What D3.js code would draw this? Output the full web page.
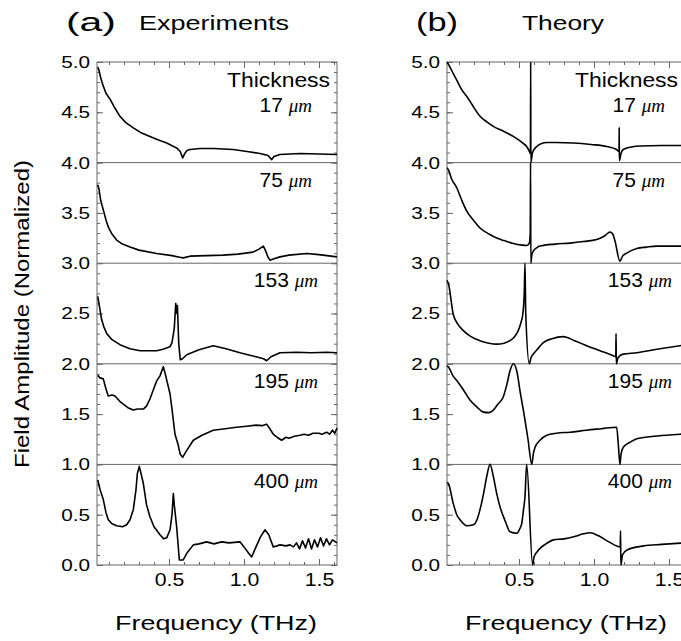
<!DOCTYPE html>
<html>
<head>
<meta charset="utf-8">
<script src="https://d3js.org/d3.v7.min.js"></script>
<style>
  body { margin: 0; background: #fff; }
  text { font-family: "Liberation Sans", Arial, sans-serif; fill: #000; }
</style>
</head>
<body>
<svg id="chart" width="681" height="641"></svg>
<script>
// thickness of each sample, top band to bottom band
const thickness = ["17", "75", "153", "195", "400"];
const offsets = [4, 3, 2, 1, 0];

const yTicks = [0, 0.5, 1, 1.5, 2, 2.5, 3, 3.5, 4, 4.5, 5];
const xTicks = [0.5, 1.0, 1.5];

// experiments: [frequency THz, amplitude within band]
const exp17 = [[0.025,0.95],[0.033,0.92],[0.045,0.84],[0.062,0.76],[0.08,0.69],[0.107,0.63],[0.14,0.54],[0.173,0.46],[0.21,0.4],[0.262,0.345],[0.31,0.3],[0.373,0.26],[0.43,0.225],[0.485,0.195],[0.53,0.16],[0.551,0.146],[0.575,0.11],[0.591,0.047],[0.605,0.09],[0.62,0.12],[0.64,0.13],[0.707,0.14],[0.8,0.14],[0.927,0.13],[1.02,0.11],[1.107,0.09],[1.16,0.07],[1.185,0.03],[1.2,0.06],[1.24,0.08],[1.373,0.09],[1.5,0.085],[1.62,0.08]];
const exp75 = [[0.025,0.78],[0.033,0.74],[0.045,0.62],[0.062,0.53],[0.08,0.43],[0.095,0.36],[0.12,0.29],[0.151,0.23],[0.19,0.19],[0.24,0.16],[0.3,0.13],[0.418,0.096],[0.52,0.075],[0.57,0.06],[0.595,0.053],[0.64,0.07],[0.75,0.075],[0.86,0.08],[0.96,0.09],[1.06,0.11],[1.1,0.14],[1.129,0.17],[1.145,0.12],[1.16,0.06],[1.173,0.03],[1.2,0.045],[1.24,0.063],[1.3,0.08],[1.418,0.096],[1.5,0.085],[1.58,0.07],[1.62,0.063]];
const exp153 = [[0.025,0.67],[0.035,0.58],[0.051,0.44],[0.065,0.37],[0.085,0.3],[0.12,0.24],[0.173,0.19],[0.24,0.15],[0.307,0.13],[0.418,0.13],[0.46,0.145],[0.507,0.17],[0.52,0.21],[0.535,0.35],[0.545,0.6],[0.552,0.5],[0.556,0.58],[0.565,0.2],[0.575,0.04],[0.59,0.05],[0.618,0.09],[0.7,0.14],[0.795,0.18],[0.88,0.15],[0.973,0.11],[1.08,0.07],[1.13,0.05],[1.151,0.03],[1.18,0.07],[1.24,0.11],[1.35,0.115],[1.45,0.11],[1.55,0.115],[1.62,0.11]];
const exp195 = [[0.025,0.885],[0.04,0.86],[0.062,0.85],[0.08,0.75],[0.095,0.68],[0.12,0.69],[0.14,0.68],[0.17,0.63],[0.195,0.6],[0.23,0.56],[0.262,0.54],[0.29,0.55],[0.329,0.55],[0.35,0.58],[0.373,0.65],[0.4,0.76],[0.418,0.83],[0.44,0.88],[0.462,0.97],[0.475,0.9],[0.507,0.7],[0.52,0.55],[0.54,0.3],[0.56,0.2],[0.575,0.1],[0.591,0.07],[0.61,0.12],[0.662,0.24],[0.72,0.29],[0.795,0.34],[0.9,0.36],[0.95,0.37],[1.018,0.38],[1.08,0.39],[1.12,0.385],[1.151,0.4],[1.17,0.36],[1.195,0.3],[1.22,0.27],[1.251,0.24],[1.28,0.27],[1.3,0.26],[1.335,0.28],[1.373,0.29],[1.4,0.3],[1.43,0.29],[1.46,0.31],[1.5,0.31],[1.52,0.3],[1.551,0.32],[1.57,0.3],[1.59,0.34],[1.605,0.31],[1.62,0.36]];
const exp400 = [[0.025,0.845],[0.04,0.75],[0.062,0.65],[0.08,0.52],[0.095,0.45],[0.12,0.41],[0.151,0.39],[0.19,0.38],[0.218,0.4],[0.24,0.45],[0.262,0.55],[0.28,0.75],[0.289,0.91],[0.302,0.98],[0.315,0.9],[0.329,0.81],[0.35,0.6],[0.373,0.48],[0.4,0.38],[0.44,0.3],[0.465,0.26],[0.485,0.27],[0.507,0.35],[0.52,0.5],[0.529,0.71],[0.535,0.6],[0.551,0.38],[0.569,0.05],[0.595,0.05],[0.62,0.12],[0.662,0.2],[0.7,0.21],[0.751,0.23],[0.8,0.21],[0.85,0.23],[0.9,0.22],[0.973,0.23],[1.0,0.18],[1.03,0.12],[1.051,0.08],[1.08,0.18],[1.11,0.28],[1.14,0.35],[1.165,0.3],[1.195,0.18],[1.24,0.2],[1.28,0.19],[1.307,0.2],[1.33,0.18],[1.35,0.22],[1.37,0.16],[1.39,0.24],[1.41,0.17],[1.43,0.26],[1.45,0.16],[1.47,0.25],[1.49,0.18],[1.51,0.27],[1.53,0.19],[1.55,0.26],[1.57,0.2],[1.59,0.25],[1.62,0.22]];

// theory
const theo17 = [[0.02,1.0],[0.04,0.95],[0.06,0.89],[0.085,0.82],[0.12,0.72],[0.151,0.66],[0.19,0.57],[0.24,0.46],[0.29,0.4],[0.329,0.36],[0.4,0.31],[0.462,0.26],[0.52,0.2],[0.551,0.16],[0.57,0.11],[0.576,0.09],[0.578,1.0],[0.579,0.0],[0.59,0.1],[0.618,0.16],[0.65,0.19],[0.685,0.2],[0.75,0.2],[0.862,0.195],[0.98,0.18],[1.085,0.16],[1.15,0.13],[1.167,0.11],[1.168,0.35],[1.169,0.02],[1.18,0.09],[1.195,0.13],[1.25,0.155],[1.307,0.165],[1.45,0.17],[1.62,0.17]];
const theo75 = [[0.02,0.95],[0.029,0.93],[0.05,0.84],[0.085,0.75],[0.12,0.62],[0.151,0.52],[0.2,0.42],[0.24,0.35],[0.3,0.29],[0.351,0.25],[0.4,0.225],[0.462,0.196],[0.52,0.18],[0.551,0.176],[0.569,0.2],[0.575,0.3],[0.577,1.0],[0.579,0.0],[0.585,0.08],[0.595,0.12],[0.62,0.155],[0.64,0.17],[0.74,0.19],[0.84,0.2],[0.93,0.215],[1.018,0.235],[1.07,0.27],[1.107,0.31],[1.125,0.29],[1.14,0.22],[1.173,0.02],[1.19,0.07],[1.218,0.1],[1.285,0.146],[1.35,0.16],[1.418,0.17],[1.62,0.17]];
const theo153 = [[0.02,0.83],[0.029,0.8],[0.062,0.49],[0.09,0.4],[0.129,0.33],[0.18,0.27],[0.24,0.23],[0.3,0.205],[0.351,0.196],[0.4,0.205],[0.44,0.23],[0.47,0.27],[0.495,0.33],[0.515,0.42],[0.525,0.49],[0.535,0.7],[0.54,1.0],[0.545,0.5],[0.569,0.0],[0.58,0.06],[0.595,0.096],[0.62,0.14],[0.662,0.21],[0.72,0.25],[0.795,0.27],[0.87,0.23],[0.951,0.18],[1.04,0.13],[1.129,0.08],[1.145,0.07],[1.147,0.3],[1.149,0.0],[1.16,0.06],[1.195,0.096],[1.285,0.11],[1.4,0.14],[1.573,0.18],[1.62,0.19]];
const theo195 = [[0.02,0.98],[0.029,0.97],[0.06,0.88],[0.085,0.835],[0.13,0.74],[0.173,0.64],[0.22,0.57],[0.262,0.52],[0.3,0.515],[0.329,0.54],[0.36,0.6],[0.395,0.67],[0.42,0.8],[0.44,0.93],[0.462,1.0],[0.485,0.93],[0.51,0.7],[0.529,0.54],[0.56,0.25],[0.585,0.0],[0.595,0.1],[0.607,0.17],[0.64,0.24],[0.685,0.29],[0.75,0.31],[0.84,0.32],[0.95,0.34],[1.05,0.355],[1.151,0.37],[1.162,0.2],[1.173,0.0],[1.18,0.1],[1.195,0.17],[1.24,0.22],[1.285,0.255],[1.4,0.28],[1.573,0.3],[1.62,0.305]];
const theo400 = [[0.02,0.82],[0.029,0.81],[0.062,0.61],[0.085,0.5],[0.107,0.45],[0.151,0.39],[0.195,0.4],[0.22,0.45],[0.24,0.55],[0.265,0.72],[0.285,0.88],[0.307,1.0],[0.329,0.88],[0.35,0.72],[0.373,0.58],[0.41,0.43],[0.44,0.33],[0.485,0.315],[0.505,0.36],[0.518,0.41],[0.53,0.55],[0.54,0.68],[0.551,1.0],[0.591,0.0],[0.6,0.08],[0.62,0.13],[0.64,0.165],[0.68,0.21],[0.729,0.25],[0.8,0.26],[0.865,0.28],[0.93,0.31],[0.975,0.32],[1.03,0.29],[1.1,0.23],[1.175,0.18],[1.177,0.34],[1.179,0.0],[1.19,0.1],[1.22,0.15],[1.331,0.19],[1.45,0.205],[1.553,0.215],[1.62,0.22]];

const svg = d3.select("#chart");
svg.append("rect").attr("width", 681).attr("height", 641).attr("fill", "#fff");

const yTop = 62, yBottom = 565, pw = 240;
const grey = "#666";
const y = d3.scaleLinear().domain([0, 5]).range([yBottom, yTop]);

const panels = [
  { x0: 97, tag: "(a)", title: "Experiments", titleDx: 42, titleLen: 150, tagLen: 50, thickDx: 130,
    curves: [exp17, exp75, exp153, exp195, exp400], smooth: false, lblDx: [215, 215, 221, 221, 221] },
  { x0: 447, tag: "(b)", title: "Theory", titleDx: 75, titleLen: 82, tagLen: 42, thickDx: 128,
    curves: [theo17, theo75, theo153, theo195, theo400], smooth: true, lblDx: [218, 218, 225, 225, 225] }
];

function txt(g, x, yy, s, size, len, anchor) {
  const t = g.append("text").attr("x", x).attr("y", yy).attr("font-size", size).text(s);
  if (len) t.attr("textLength", len).attr("lengthAdjust", "spacingAndGlyphs");
  if (anchor) t.attr("text-anchor", anchor);
  return t;
}

function styleAxis(sel) {
  sel.select(".domain").remove();
  sel.selectAll("line").attr("stroke", grey);
}

panels.forEach(p => {
  const g = svg.append("g");
  const x = d3.scaleLinear().domain([0.02, 1.62]).range([p.x0, p.x0 + pw]);

  // headings
  txt(g, p.x0 - 31, 31, p.tag, 25, p.tagLen);
  txt(g, p.x0 + p.titleDx, 30, p.title, 21, p.titleLen);

  // minor + major ticks on all four sides
  const minorY = d3.range(0, 5.001, 0.1), minorX = d3.range(0.1, 1.601, 0.1);
  g.append("g").attr("transform", `translate(${p.x0},0)`)
    .call(d3.axisLeft(y).tickValues(minorY).tickSize(-3).tickFormat("")).call(styleAxis);
  g.append("g").attr("transform", `translate(${p.x0 + pw},0)`)
    .call(d3.axisRight(y).tickValues(minorY).tickSize(-3).tickFormat("")).call(styleAxis);
  g.append("g").attr("transform", `translate(${p.x0 + pw},0)`)
    .call(d3.axisRight(y).tickValues(yTicks).tickSize(-6).tickFormat("")).call(styleAxis);
  g.append("g").attr("transform", `translate(0,${yTop})`)
    .call(d3.axisTop(x).tickValues(minorX).tickSize(-3).tickFormat("")).call(styleAxis);
  g.append("g").attr("transform", `translate(0,${yTop})`)
    .call(d3.axisTop(x).tickValues(xTicks).tickSize(-6).tickFormat("")).call(styleAxis);
  g.append("g").attr("transform", `translate(0,${yBottom})`)
    .call(d3.axisBottom(x).tickValues(minorX).tickSize(-3).tickFormat("")).call(styleAxis);

  const ya = g.append("g").attr("transform", `translate(${p.x0},0)`)
    .call(d3.axisLeft(y).tickValues(yTicks).tickSize(-6).tickFormat(d3.format(".1f")))
    .call(styleAxis);
  ya.selectAll("text")
    .attr("font-size", 17).attr("font-family", "Liberation Sans, Arial, sans-serif")
    .attr("x", -7 / 1.22).attr("transform", "scale(1.22,1)").attr("fill", "#111");

  const xa = g.append("g").attr("transform", `translate(0,${yBottom})`)
    .call(d3.axisBottom(x).tickValues(xTicks).tickSize(-6).tickFormat(d3.format(".1f")))
    .call(styleAxis);
  xa.selectAll("text")
    .attr("font-size", 19).attr("font-family", "Liberation Sans, Arial, sans-serif")
    .attr("dy", null).attr("y", 21).attr("transform", "scale(1.12,1)").attr("fill", "#111");

  // frame and band dividers
  g.append("rect").attr("x", p.x0).attr("y", yTop).attr("width", pw).attr("height", yBottom - yTop)
    .attr("fill", "none").attr("stroke", grey);
  g.selectAll(".div").data([1, 2, 3, 4]).enter().append("line")
    .attr("x1", p.x0).attr("x2", p.x0 + pw)
    .attr("y1", d => y(d)).attr("y2", d => y(d))
    .attr("stroke", grey);

  // curves
  p.curves.forEach((c, i) => {
    const line = d3.line()
      .x(d => x(d[0]))
      .y(d => y(d[1] + offsets[i]))
      .curve(p.smooth ? d3.curveMonotoneX : d3.curveLinear);
    g.append("path").attr("d", line(c))
      .attr("fill", "none").attr("stroke", "#000").attr("stroke-width", 1.6)
      .attr("stroke-linejoin", "round");
  });

  // thickness labels
  thickness.forEach((t, i) => {
    const bandTop = y(offsets[i] + 1);
    const yb = i === 0 ? bandTop + 50 : bandTop + 24;
    const lbl = g.append("text").attr("x", p.x0 + p.lblDx[i]).attr("y", yb)
      .attr("text-anchor", "end").attr("font-size", 21);
    lbl.append("tspan").text(t + " ");
    lbl.append("tspan").attr("font-family", "Liberation Serif, serif").attr("font-style", "italic")
      .attr("font-size", 19).text("μm");
  });
  txt(g, p.x0 + p.thickDx, y(5) + 25, "Thickness", 20, 103);

  // x label
  txt(g, p.x0 + 119, 630, "Frequency (THz)", 21, 202, "middle");
});

// y label
svg.append("text")
  .attr("transform", "translate(29,314) rotate(-90)")
  .attr("text-anchor", "middle").attr("font-size", 21)
  .attr("textLength", 308).attr("lengthAdjust", "spacingAndGlyphs")
  .text("Field Amplitude (Normalized)");
</script>
</body>
</html>
